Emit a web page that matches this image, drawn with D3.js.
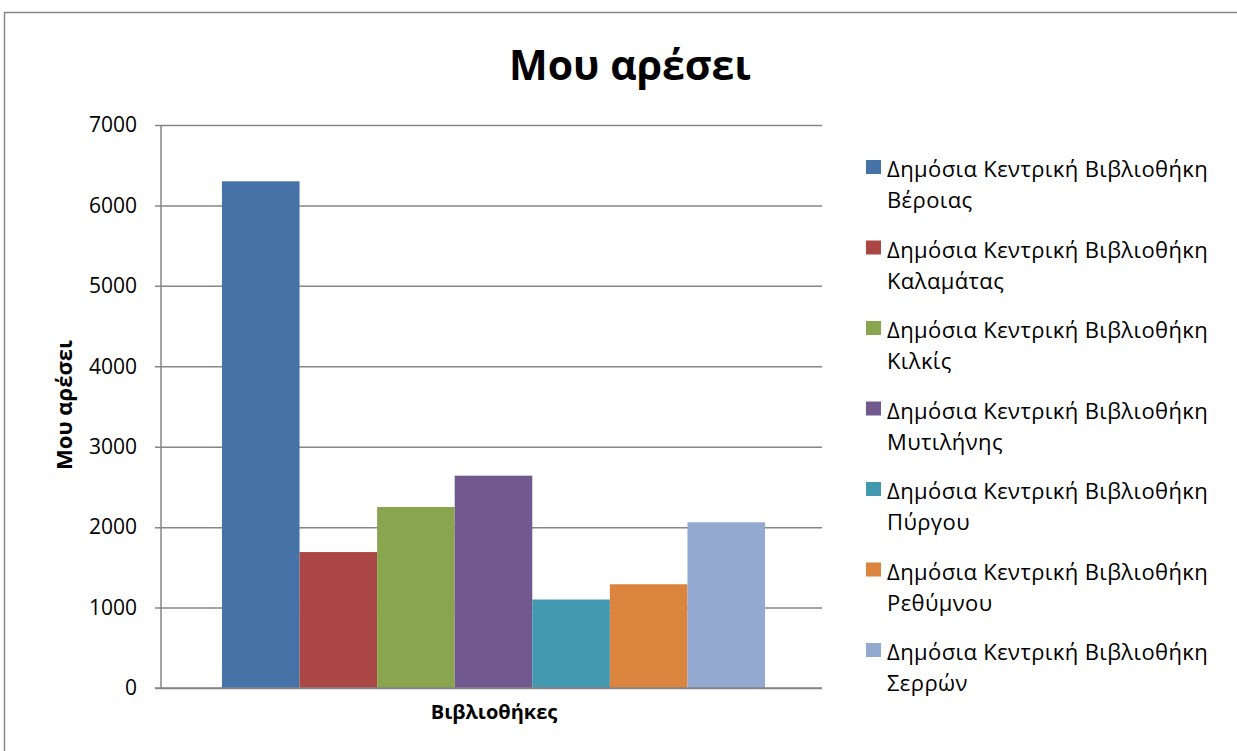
<!DOCTYPE html>
<html>
<head>
<meta charset="utf-8">
<script src="https://cdn.jsdelivr.net/npm/d3@7"></script>
<style>
  body { margin: 0; background: #fff; }
  svg { display: block; }
</style>
</head>
<body>
<div id="container"></div>
<script>
// data
const libraries = [
    "Δημόσια Κεντρική Βιβλιοθήκη Βέροιας",
    "Δημόσια Κεντρική Βιβλιοθήκη Καλαμάτας",
    "Δημόσια Κεντρική Βιβλιοθήκη Κιλκίς",
    "Δημόσια Κεντρική Βιβλιοθήκη Μυτιλήνης",
    "Δημόσια Κεντρική Βιβλιοθήκη Πύργου",
    "Δημόσια Κεντρική Βιβλιοθήκη Ρεθύμνου",
    "Δημόσια Κεντρική Βιβλιοθήκη Σερρών"
];
const likes = [6300, 1690, 2250, 2640, 1100, 1290, 2060];
const yTicks = [0, 1000, 2000, 3000, 4000, 5000, 6000, 7000];
const colors = ["#4572A7", "#AA4643", "#89A54E", "#71588F", "#4198AF", "#DB843D", "#93A9CF"];

const width = 1237;
const height = 751;
const margins = { top: 125, bottom: 63, left: 161, right: 415 };
const font = "'Open Sans', 'Noto Sans', sans-serif";

const svg = d3.select("#container").append("svg")
    .attr("width", width)
    .attr("height", height);

// outer chart frame
svg.append("rect")
    .attr("x", 4.5).attr("y", 12.5)
    .attr("width", width + 10).attr("height", height + 10)
    .attr("fill", "#fff")
    .attr("stroke", "#868686")
    .attr("stroke-width", 1.5);

const yScale = d3.scaleLinear()
    .domain([0, 7000])
    .range([height - margins.bottom, margins.top]);

const xScale = d3.scaleBand()
    .domain(libraries)
    .range([margins.left + 2, width - margins.right + 2])
    .paddingInner(0)
    .paddingOuter(0.76);

// gridlines + y axis
const yAxis = d3.axisLeft(yScale)
    .tickValues(yTicks)
    .tickSize(-(width - margins.right - margins.left))
    .tickPadding(24)
    .tickFormat(d3.format("d"));

const gy = svg.append("g")
    .attr("transform", `translate(${margins.left}, 0)`)
    .call(yAxis);
gy.select(".domain").remove();
gy.selectAll(".tick line")
    .attr("x1", -6)
    .attr("stroke", "#868686")
    .attr("stroke-width", 1.5);
gy.selectAll(".tick text")
    .style("font-family", font)
    .style("font-size", "21px")
    .attr("fill", "#000");

// bars
svg.append("g")
    .selectAll("rect")
    .data(libraries)
    .enter()
    .append("rect")
    .attr("x", d => xScale(d))
    .attr("y", (d, i) => yScale(likes[i]))
    .attr("width", xScale.bandwidth())
    .attr("height", (d, i) => yScale(0) - yScale(likes[i]))
    .attr("fill", (d, i) => colors[i]);

// axis lines
svg.append("line")
    .attr("x1", margins.left).attr("x2", margins.left)
    .attr("y1", margins.top).attr("y2", yScale(0))
    .attr("stroke", "#868686").attr("stroke-width", 1.5);
svg.append("line")
    .attr("x1", margins.left - 6).attr("x2", width - margins.right)
    .attr("y1", yScale(0)).attr("y2", yScale(0))
    .attr("stroke", "#868686").attr("stroke-width", 1.5);

// title
svg.append("text")
    .attr("x", 630)
    .attr("y", 80)
    .attr("text-anchor", "middle")
    .style("font-family", font)
    .style("font-weight", "bold")
    .style("font-size", "41px")
    .text("Μου αρέσει");

// axis titles
svg.append("text")
    .attr("x", 494)
    .attr("y", 719)
    .attr("text-anchor", "middle")
    .style("font-family", font)
    .style("font-weight", "bold")
    .style("font-size", "20px")
    .text("Βιβλιοθήκες");

svg.append("text")
    .attr("text-anchor", "middle")
    .attr("transform", `translate(72, 405) rotate(-90)`)
    .style("font-family", font)
    .style("font-weight", "bold")
    .style("font-size", "22px")
    .text("Μου αρέσει");

// legend
const legend = svg.append("g")
    .selectAll("g")
    .data(libraries)
    .enter()
    .append("g")
    .attr("transform", (d, i) => `translate(866, ${160 + i * 80.5})`);

legend.append("rect")
    .attr("width", 15)
    .attr("height", 14)
    .attr("fill", (d, i) => colors[i]);

legend.each(function (d) {
    const words = d.split(" ");
    const t = d3.select(this).append("text")
        .style("font-family", font)
        .style("font-size", "22px")
        .style("letter-spacing", "0.4px")
        .attr("fill", "#000");
    t.append("tspan").attr("x", 21).attr("y", 17).text(words.slice(0, 3).join(" "));
    t.append("tspan").attr("x", 21).attr("y", 48).text(words.slice(3).join(" "));
});
</script>
</body>
</html>
